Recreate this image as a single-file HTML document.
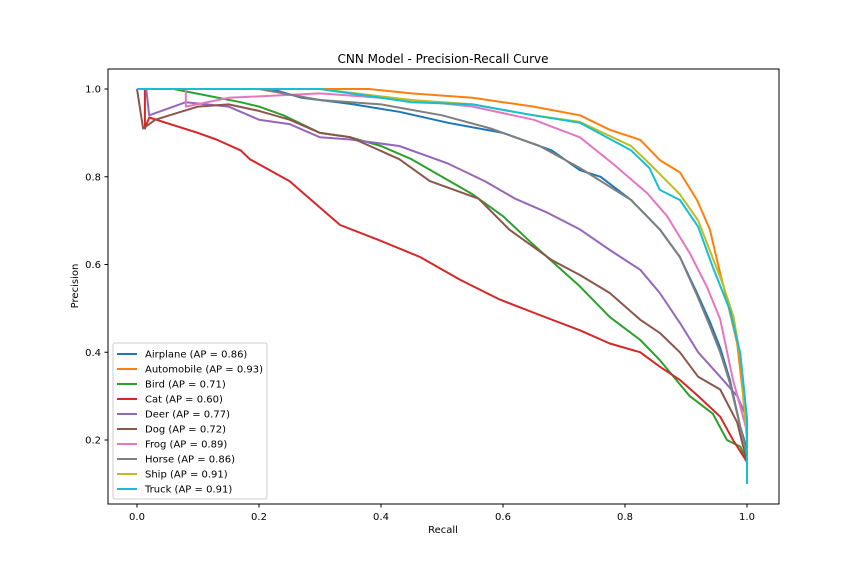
<!DOCTYPE html>
<html><head><meta charset="utf-8"><style>
body{margin:0;background:#fff}
svg text{font-family:"DejaVu Sans","Liberation Sans",sans-serif;fill:#000}
</style></head><body>
<svg id="chart" width="864" height="576" xmlns="http://www.w3.org/2000/svg">
<rect width="864" height="576" fill="#fff"/>
<g id="plot"></g>
<rect x="108" y="69" width="671" height="435" fill="none" stroke="#000" stroke-width="1"/>
<text x="443" y="63" font-size="12" text-anchor="middle">CNN Model - Precision-Recall Curve</text>
<text x="443" y="533" font-size="10" text-anchor="middle">Recall</text>
<text transform="translate(78,286) rotate(-90)" font-size="10" text-anchor="middle">Precision</text>
<g id="ticks"></g>
<g id="legend"></g>
</svg>
<script>
const xTicks=[0,0.2,0.4,0.6,0.8,1.0];
const yTicks=[0.2,0.4,0.6,0.8,1.0];
const names=["Airplane","Automobile","Bird","Cat","Deer","Dog","Frog","Horse","Ship","Truck"];
const aps=["0.86","0.93","0.71","0.60","0.77","0.72","0.89","0.86","0.91","0.91"];
const colors=["#1f77b4","#ff7f0e","#2ca02c","#d62728","#9467bd","#8c564b","#e377c2","#7f7f7f","#bcbd22","#17becf"];
const recall=[
[0,0.22,0.27,0.35,0.43,0.51,0.6,0.68,0.726,0.76,0.81,0.857,0.89,0.918,0.939,0.956,0.972,0.989,1,1],
[0,0.38,0.45,0.55,0.6,0.65,0.726,0.775,0.825,0.857,0.89,0.918,0.939,0.956,0.967,0.984,0.993,1,1],
[0,0.06,0.17,0.2,0.24,0.3,0.35,0.4,0.45,0.5,0.55,0.6,0.65,0.726,0.775,0.825,0.857,0.906,0.944,0.967,0.989,1,1],
[0,0.013,0.013,0.02,0.1,0.13,0.17,0.185,0.25,0.308,0.333,0.398,0.464,0.53,0.595,0.66,0.726,0.775,0.825,0.857,0.89,0.92,0.956,0.977,1,1],
[0,0.015,0.02,0.08,0.15,0.2,0.25,0.3,0.35,0.43,0.51,0.57,0.62,0.67,0.726,0.775,0.825,0.857,0.89,0.92,0.956,0.984,1,1],
[0,0.01,0.03,0.1,0.15,0.2,0.25,0.3,0.35,0.43,0.48,0.56,0.61,0.68,0.726,0.775,0.825,0.857,0.89,0.92,0.956,0.984,1,1],
[0,0.08,0.08,0.15,0.3,0.45,0.55,0.65,0.726,0.78,0.836,0.869,0.906,0.934,0.956,0.977,1,1],
[0,0.2,0.3,0.4,0.5,0.58,0.66,0.726,0.81,0.857,0.89,0.918,0.939,0.956,0.972,0.989,1,1],
[0,0.3,0.45,0.55,0.65,0.726,0.81,0.84,0.89,0.92,0.96,0.978,0.99,1,1],
[0,0.3,0.45,0.55,0.65,0.726,0.81,0.84,0.857,0.89,0.92,0.944,0.972,0.989,1,1]];
const precision=[
[1,1,0.98,0.966,0.948,0.923,0.9,0.86,0.815,0.8,0.747,0.68,0.617,0.535,0.47,0.41,0.337,0.23,0.18,0.1],
[1,1,0.99,0.98,0.97,0.96,0.94,0.907,0.884,0.838,0.81,0.747,0.68,0.58,0.52,0.42,0.31,0.2,0.1],
[1,1,0.97,0.96,0.94,0.9,0.89,0.87,0.84,0.8,0.76,0.71,0.645,0.55,0.48,0.428,0.382,0.3,0.26,0.2,0.185,0.15,0.1],
[1,1,0.91,0.935,0.9,0.885,0.86,0.84,0.79,0.72,0.69,0.655,0.617,0.565,0.52,0.485,0.45,0.42,0.4,0.367,0.337,0.3,0.253,0.2,0.15,0.1],
[1,1,0.94,0.97,0.96,0.93,0.92,0.89,0.885,0.87,0.83,0.79,0.75,0.72,0.68,0.633,0.588,0.535,0.467,0.4,0.344,0.3,0.25,0.1],
[1,0.91,0.93,0.96,0.965,0.95,0.93,0.9,0.89,0.84,0.79,0.75,0.68,0.61,0.576,0.535,0.474,0.444,0.4,0.344,0.315,0.24,0.15,0.1],
[1,1,0.96,0.98,0.99,0.975,0.96,0.93,0.89,0.83,0.763,0.71,0.626,0.55,0.475,0.337,0.22,0.1],
[1,1,0.975,0.965,0.94,0.91,0.87,0.82,0.747,0.68,0.617,0.53,0.46,0.4,0.33,0.23,0.17,0.1],
[1,1,0.975,0.965,0.94,0.925,0.87,0.83,0.76,0.7,0.557,0.48,0.38,0.2,0.1],
[1,1,0.97,0.965,0.94,0.923,0.86,0.82,0.77,0.747,0.686,0.594,0.496,0.398,0.25,0.1]];
const X=v=>137+v*610, Y=v=>89+(1-v)*438.75;
const NS="http://www.w3.org/2000/svg";
const plot=document.getElementById('plot'), ticks=document.getElementById('ticks'), legend=document.getElementById('legend');
function mk(t,a,p){const e=document.createElementNS(NS,t);for(const k in a)e.setAttribute(k,a[k]);p.appendChild(e);return e;}
xTicks.forEach(v=>{
  const l=mk('line',{x1:X(v),x2:X(v),y1:504,y2:507.5,stroke:'#000'},ticks);
  
  
  const t=mk('text',{x:X(v),y:520,'font-size':10,'text-anchor':'middle'},ticks);t.textContent=v.toFixed(1);
  
  
});
yTicks.forEach(v=>{
  const l=mk('line',{x1:104.5,x2:108,y1:Y(v),y2:Y(v),stroke:'#000'},ticks);
  
  
  const t=mk('text',{x:101,y:Y(v)+3.5,'font-size':10,'text-anchor':'end'},ticks);t.textContent=v.toFixed(1);
  
  
});
recall.forEach((r,i)=>{
  let d='';r.forEach((v,j)=>{d+=(j?'L':'M')+X(v).toFixed(1)+','+Y(precision[i][j]).toFixed(1);});
  const p=mk('path',{d:d,fill:'none',stroke:colors[i],'stroke-width':2,'stroke-linejoin':'round'},plot);
  
  
});
const box=mk('rect',{x:113,y:343,width:154,height:156,fill:'#fff','fill-opacity':0.8,stroke:'#ccc',rx:2},legend);


names.forEach((n,i)=>{
  const y=354+i*15;
  const l=mk('line',{x1:117,x2:137,y1:y,y2:y,stroke:colors[i],'stroke-width':2},legend);
  
  
  const t=mk('text',{x:145,y:y+3.5,'font-size':10},legend);t.textContent=n+' (AP = '+aps[i]+')';
  
  
});
</script>
</body></html>
